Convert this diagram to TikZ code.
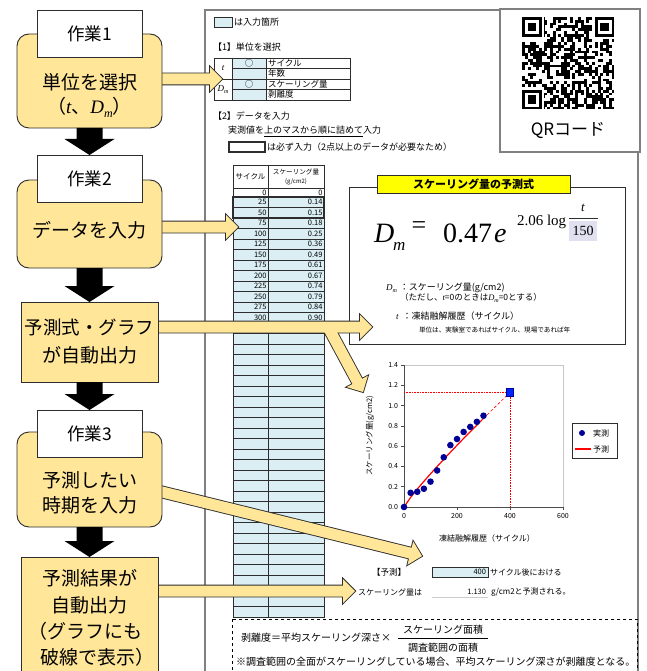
\documentclass[tikz,border=0pt]{standalone}
\usepackage{fontspec}
\setmainfont{Noto Sans CJK JP}
\newfontfamily\serif{Liberation Serif}
\usetikzlibrary{calc}
\definecolor{boxyellow}{RGB}{255,230,153}
\definecolor{cellblue}{RGB}{218,238,243}
\definecolor{framegray}{RGB}{128,128,128}
\definecolor{outl}{RGB}{45,45,45}
\definecolor{navyd}{RGB}{0,0,150}
\definecolor{lav}{RGB}{224,224,240}
\definecolor{titleyellow}{RGB}{255,255,0}
\newcommand{\fsz}[1]{\fontsize{#1}{#1}\selectfont}
% block arrow geometry: #1 prefix, #2 start, #3 tip
\newcommand{\mkarrow}[3]{%
  \coordinate (#1t) at #3;
  \coordinate (#1s) at #2;
  \coordinate (#1h) at ($(#1t)!12pt!(#1s)$);
  \coordinate (#1a) at ($(#1s)!5.5pt!90:(#1t)$);
  \coordinate (#1b) at ($(#1h)!5.5pt!90:(#1t)$);
  \coordinate (#1c) at ($(#1h)!12pt!90:(#1t)$);
  \coordinate (#1d) at ($(#1h)!12pt!-90:(#1t)$);
  \coordinate (#1e) at ($(#1h)!5.5pt!-90:(#1t)$);
  \coordinate (#1f) at ($(#1s)!5.5pt!-90:(#1t)$);
}
\newcommand{\blkarrow}[2]{%
  \fill[black] ($(#1.south)+(-13,0)$) -- ($(#2.north)+(-13,-16)$) -- ($(#2.north)+(-25,-16)$) -- (#2.north)
   -- ($(#2.north)+(25,-16)$) -- ($(#2.north)+(13,-16)$) -- ($(#1.south)+(13,0)$) -- cycle;}
\begin{document}
\begin{tikzpicture}[x=1pt,y=-1pt,font=\fsz{9},
  every node/.style={inner sep=0pt,outer sep=0pt},
  ybox/.style={draw=outl,fill=boxyellow,line width=0.9pt},
  wbox/.style={draw=outl,fill=white,line width=0.9pt,minimum width=105,minimum height=47,font=\fsz{17.5}},
  flow/.style={font=\fsz{19}},
  sheet/.style={font=\fsz{9},anchor=west},
  num/.style={font=\fsz{7.5},anchor=east},
  yarrline/.style={draw=outl,line width=1.8pt,line join=miter},
  yarrfill/.style={fill=boxyellow},
  cell/.style={draw=outl,line width=0.6pt}]
\useasboundingbox (0,0) rectangle (646,671);
\fill[white] (0,0) rectangle (646,671);
\clip (0,0) rectangle (646,671);

% ---------------- sheet frame ----------------
\draw[framegray,line width=2pt] (205,10) rectangle (638,690);
\draw[framegray,line width=2pt,fill=white] (500,9) rectangle (640,152);

% QR code
\begin{scope}[shift={(522,17)}]
  \pgfmathsetseed{777}
  \foreach \i in {0,...,32}{\foreach \j in {0,...,32}{%
    \pgfmathrandominteger{\rr}{0}{9}%
    \ifnum\rr<5\relax \fill[black] (\i*2.8,\j*2.8) rectangle ++(2.9,2.9);\fi}}
  \foreach \fx/\fy in {0/0,26/0,0/26}{
    \fill[white] ({(\fx-1)*2.8},{(\fy-1)*2.8}) rectangle ({(\fx+8)*2.8},{(\fy+8)*2.8});
    \fill[black] ({\fx*2.8},{\fy*2.8}) rectangle ({(\fx+7)*2.8},{(\fy+7)*2.8});
    \fill[white] ({(\fx+1)*2.8},{(\fy+1)*2.8}) rectangle ({(\fx+6)*2.8},{(\fy+6)*2.8});
    \fill[black] ({(\fx+2)*2.8},{(\fy+2)*2.8}) rectangle ({(\fx+5)*2.8},{(\fy+5)*2.8});
  }
  \fill[white] (0,{33*2.8}) rectangle ({34*2.8},{35*2.8});
  \fill[white] ({33*2.8},0) rectangle ({35*2.8},{33*2.8});
\end{scope}
\node[font=\fsz{17}] (qrt) at (568,131) {QRコード};

% legend of input cells
\draw[cell,fill=cellblue] (214,17) rectangle (232,27);
\node[sheet] (inlab) at (234,22) {は入力箇所};
\node[sheet] (sec1) at (213,47) {【1】単位を選択};

% unit table
\fill[cellblue] (232,58) rectangle (266,100);
\draw[cell] (214,58) rectangle (350,100);
\draw[cell] (232,58) -- (232,100) (266,58) -- (266,100) (214,79) -- (350,79)
  (232,68.5) -- (350,68.5) (232,89.5) -- (350,89.5);
\node[font=\serif\itshape\fsz{9}] (ut) at (223,68.5) {t};
\node[font=\serif\itshape\fsz{9}] (ud) at (223,89.5) {D\raisebox{-2pt}{\fsz{6}m}};
\node[font=\fsz{8.5}] (o1) at (249,63.2) {○};
\node[font=\fsz{8.5}] (o2) at (249,84.2) {○};
\node[sheet,font=\fsz{8.5}] at (268,63.2) {サイクル};
\node[sheet,font=\fsz{8.5}] at (268,73.7) {年数};
\node[sheet,font=\fsz{8.5}] at (268,84.2) {スケーリング量};
\node[sheet,font=\fsz{8.5}] at (268,94.7) {剥離度};

\node[sheet] (sec2) at (213,116) {【2】データを入力};
\node[sheet] (inst) at (228,131.5) {実測値を\underline{上のマスから順に詰めて}入力};
\draw[outl,line width=1.4pt] (229,142) rectangle (265,152);
\node[sheet] (must) at (267,147) {は必ず入力（2点以上のデータが必要なため）};

% data table
\fill[cellblue] (233,197) rectangle (324,617);
\draw[cell] (233,165) rectangle (324,617);
\draw[cell] (268,165) -- (268,617) (233,188) -- (324,188);
\foreach \c in {0,...,40} \draw[cell] (233,{197+\c*10.5}) -- (324,{197+\c*10.5});
\draw[outl,line width=1.4pt] (233,197) rectangle (324,218);
\node[font=\fsz{7.5}] (hd1) at (250.5,176.5) {サイクル};
\node[font=\fsz{6.6}] (hd2) at (296,172) {スケーリング量};
\node[font=\fsz{6}] (hd3) at (296,181.5) {(g/cm2)};
\node[num] at (266.5,192.5) {0};
\node[num] at (322.5,192.5) {0};
\foreach \t/\v [count=\c] in {25/0.14,50/0.15,75/0.18,100/0.25,125/0.36,150/0.49,175/0.61,200/0.67,225/0.74,250/0.79,275/0.84,300/0.90}{
  \node[num] at (266.5,{197+(\c-0.5)*10.5}) {\t};
  \node[num] at (322.5,{197+(\c-0.5)*10.5}) {\v};
}

% formula box
\draw[outl,line width=1pt,fill=white] (349,187) rectangle (625,344);
\node[draw=outl,line width=0.8pt,fill=titleyellow,minimum width=193,minimum height=18,font=\bfseries\fsz{11}] (ftitle) at (473.5,184) {スケーリング量の予測式};
\node[anchor=base west,font=\serif\itshape\fsz{28}] (fD) at (374,242) {D};
\node[anchor=base west,font=\serif\itshape\fsz{17}] (fm) at (393,250) {m};
\node[font=\serif\fsz{26}] (feq) at (419,228) {=};
\node[anchor=base west,font=\serif\fsz{28}] (fn) at (443,242) {0.47};
\node[anchor=base west,font=\serif\itshape\fsz{28}] (fe) at (494,242) {e};
\node[anchor=base west,font=\serif\fsz{15}] (flog) at (517,225) {2.06 log};
\fill[lav] (569,221) rectangle (597,241);
\draw[outl,line width=0.7pt] (569,218.5) -- (598,218.5);
\node[font=\serif\itshape\fsz{13}] (ft) at (583,208) {t};
\node[font=\serif\fsz{14}] (f150) at (583,231) {150};
\node[sheet] (lg1) at (386,288) {{\serif\itshape D}\raisebox{-2pt}{\serif\itshape\fsz{6}m}\hspace{3pt}：スケーリング量(g/cm2)};
\node[sheet,font=\fsz{8.5}] (lg2) at (400,298) {（ただし、{\serif\itshape t}=0のときは{\serif\itshape D}\raisebox{-2pt}{\serif\itshape\fsz{6}m}=0とする）};
\node[sheet] (lg3) at (396,316) {{\serif\itshape t}\hspace{4pt}：凍結融解履歴（サイクル）};
\node[sheet,font=\fsz{6.6}] (lg4) at (419,330) {単位は、実験室であればサイクル、現場であれば年};

% chart
\begin{scope}[shift={(404,507)},x=0.265pt,y=101.43pt]
  \draw[gray!45,line width=0.6pt] (0,0) rectangle (600,1.4);
  \draw[gray!60!black,line width=0.7pt] (0,1.4) -- (0,0) -- (600,0);
  \foreach \v/\l in {0/0.0,0.2/0.2,0.4/0.4,0.6/0.6,0.8/0.8,1.0/1.0,1.2/1.2,1.4/1.4}{
    \draw[gray!60!black,line width=0.6pt] (0,\v) -- ++(-3pt,0);
    \node[anchor=east,font=\fsz{7}] at ([xshift=-6pt]0,\v) {\l};
  }
  \foreach \t in {0,200,400,600}{
    \draw[gray!60!black,line width=0.6pt] (\t,0) -- ++(0,-3pt);
    \node[anchor=north,font=\fsz{7}] at ([yshift=-6pt]\t,0) {\t};
  }
  \draw[red,densely dotted,line width=0.6pt] (0,1.13) -- (400,1.13) -- (400,0);
  \draw[red,densely dashed,line width=0.6pt] (300,0.874) -- (400,1.13);
  \draw[red,line width=1.2pt] plot coordinates {(0,0) (25,0.095) (50,0.176) (75,0.253) (100,0.327) (125,0.399) (150,0.47) (175,0.540) (200,0.608) (225,0.676) (250,0.742) (275,0.808) (300,0.874)};
  \foreach \t/\v in {0/0,25/0.14,50/0.15,75/0.18,100/0.25,125/0.36,150/0.49,175/0.61,200/0.67,225/0.74,250/0.79,275/0.84,300/0.90}
    \fill[navyd] (\t,\v) circle (3.3pt);
  \filldraw[fill=blue!85!cyan,draw=navyd,line width=0.6pt] (400,1.13) ++(-3.6pt,-3.6pt) rectangle ++(7.2pt,7.2pt);
\end{scope}
\node[rotate=90,font=\fsz{7.5}] (yl) at (370,436) {スケーリング量(g/cm2)};
\node[font=\fsz{8}] (xl) at (487,538) {凍結融解履歴（サイクル）};
\draw[outl,line width=0.7pt,fill=white] (572,423) rectangle (617,458);
\fill[navyd] (582,433) circle (3);
\node[anchor=west,font=\fsz{8}] (lgA) at (593,433) {実測};
\draw[red,line width=1.1pt] (575,449) -- (591,449);
\node[anchor=west,font=\fsz{8}] (lgB) at (593,449) {予測};

% prediction
\node[font=\fsz{8.5}] (ptitle) at (389,572) {【予測】};
\draw[cell,fill=cellblue] (432,567) rectangle (488,577);
\node[num] (pin) at (486,572) {400};
\node[sheet,font=\fsz{8}] (pcyc) at (490,572) {サイクル後における};
\node[sheet,font=\fsz{8}] (psk) at (358,592) {スケーリング量は};
\draw[gray!40,line width=0.6pt] (432,597.5) -- (488,597.5);
\node[num] (pout) at (486,592) {1.130};
\node[sheet,font=\fsz{8}] (punit) at (491,592) {g/cm2と予測される。};

% dashed note
\draw[black,dashed,line width=0.8pt] (232,619) rectangle (637,690);
\node[anchor=west,font=\fsz{10}] (eq1) at (241,638) {剥離度＝平均スケーリング深さ×};
\node[font=\fsz{10}] (eqn) at (443,629.5) {スケーリング面積};
\draw[black,line width=0.6pt] (398,638.5) -- (488,638.5);
\node[font=\fsz{10}] (eqd) at (443,647.5) {調査範囲の面積};
\node[anchor=west,font=\fsz{10}] (note) at (236,662) {※調査範囲の全面がスケーリングしている場合、平均スケーリング深さが剥離度となる。};

% ---------------- yellow block arrows ----------------
\mkarrow{aA}{(150,79)}{(222,79)}
\mkarrow{aB}{(150,227)}{(238,227)}
\mkarrow{aC}{(150,327)}{(372,327)}
\mkarrow{aD}{(328,327)}{(363,392)}
\mkarrow{aE}{(150,489)}{(422,556)}
\mkarrow{aF}{(150,591)}{(355,591)}
\foreach \n in {aA,aB,aC,aD,aE,aF}
  \draw[yarrline] (\n a) -- (\n b) -- (\n c) -- (\n t) -- (\n d) -- (\n e) -- (\n f) -- cycle;
\foreach \n in {aA,aB,aC,aD,aE,aF}
  \fill[yarrfill] (\n a) -- (\n b) -- (\n c) -- (\n t) -- (\n d) -- (\n e) -- (\n f) -- cycle;

% ---------------- flow boxes ----------------
\node[ybox,rounded corners=12,minimum width=145,minimum height=94] (b1) at (89.5,81) {};
\node[wbox] (w1) at (89.5,33.5) {作業1};
\node[flow] (b1t1) at (89.5,82) {単位を選択};
\node[flow] (b1t2) at (89.5,107.5) {（{\serif\itshape t}、{\serif\itshape D}\raisebox{-4pt}{\serif\itshape\fsz{12}m}）};

\node[ybox,rounded corners=12,minimum width=145,minimum height=88] (b2) at (89.5,224) {};
\node[wbox] (w2) at (89.5,178.5) {作業2};
\node[flow] (b2t) at (89.5,230) {データを入力};

\node[ybox,minimum width=137,minimum height=80] (b3) at (89.5,342) {};
\node[flow,font=\fsz{18.5}] (b3t1) at (89.5,327) {予測式・グラフ};
\node[flow] (b3t2) at (89.5,355) {が自動出力};

\node[ybox,rounded corners=12,minimum width=145,minimum height=95] (b4) at (89.5,479.5) {};
\node[wbox] (w3) at (89.5,433.5) {作業3};
\node[flow] (b4t1) at (89.5,480) {予測したい};
\node[flow] (b4t2) at (89.5,505) {時期を入力};

\node[ybox,minimum width=137,minimum height=133] (b5) at (89.5,623.5) {};
\node[flow] (b5t1) at (89.5,578) {予測結果が};
\node[flow] (b5t2) at (89.5,605) {自動出力};
\node[flow,anchor=west] (b5t3) at (28,631) {（グラフにも};
\node[flow,anchor=west] (b5t4) at (40,657) {破線で表示）};

% black arrows
\blkarrow{b1}{w2}
\blkarrow{b2}{b3}
\blkarrow{b3}{w3}
\blkarrow{b4}{b5}
\end{tikzpicture}
\end{document}
